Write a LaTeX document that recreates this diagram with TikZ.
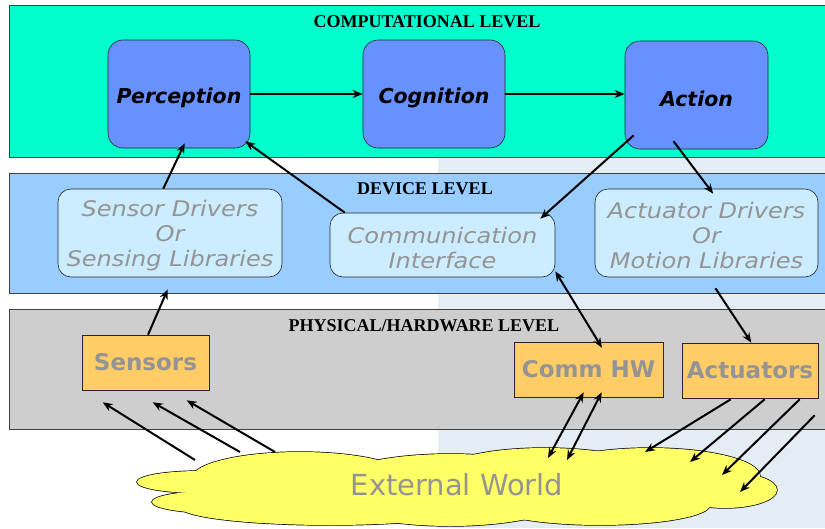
\documentclass[tikz,border=0pt]{standalone}
\usepackage{fontspec}
\setmainfont{Liberation Serif}
\newfontfamily\dv{DejaVu Sans}
\newfontfamily\dvw[FakeStretch=1.12]{DejaVu Sans}
\usetikzlibrary{arrows.meta,calc}
\definecolor{compc}{RGB}{0,255,204}
\definecolor{devc}{RGB}{153,204,255}
\definecolor{physc}{RGB}{206,206,206}
\definecolor{cblue}{RGB}{102,145,255}
\definecolor{dlight}{RGB}{204,236,255}
\definecolor{horange}{RGB}{255,204,102}
\definecolor{cloudy}{RGB}{255,255,102}
\definecolor{txtgray}{RGB}{148,148,148}
\definecolor{wmark}{RGB}{228,236,244}
\newcommand\dstrut{\rule{0pt}{22pt}}
\newcommand\lowered[2]{\raisebox{-#1}[\height][\depth]{#2}}
\begin{document}
\begin{tikzpicture}[x=1pt,y=-1pt,
  band/.style={draw=black!75, line width=0.8pt},
  bandtitle/.style={font=\bfseries\fontsize{18}{20}\selectfont, inner sep=0pt},
  cbox/.style={draw=black!85, line width=0.6pt, rounded corners=15pt, fill=cblue,
    minimum width=142pt, minimum height=108pt, inner sep=0pt,
    font=\dv\bfseries\itshape\fontsize{20.5}{24}\selectfont},
  dbox/.style={draw=black!85, line width=0.6pt, rounded corners=13pt, fill=dlight,
    align=center, inner sep=0pt, text=txtgray,
    font=\dvw\itshape\fontsize{21.5}{25}\selectfont},
  hbox/.style={draw=black!85, line width=0.6pt, fill=horange, inner sep=0pt,
    minimum height=55pt, text=txtgray,
    font=\dv\bfseries\fontsize{23}{27}\selectfont},
  arr/.style={-{Stealth[length=10pt,width=8pt]}, line width=2pt},
  darr/.style={{Stealth[length=10pt,width=8pt]}-{Stealth[length=10pt,width=8pt]}, line width=2pt}
]
\useasboundingbox (0,0) rectangle (825,528);
\fill[white] (0,0) rectangle (825,528);
% faint background watermark
\fill[wmark] (438,157) rectangle (825,528);

% bands
\draw[band, fill=compc] (9,5) rectangle (840,157);
\draw[band, fill=devc] (9,173) rectangle (840,293);
\draw[band, fill=physc] (9,309) rectangle (840,429);
\node[bandtitle] (tcomp) at (427,22) {COMPUTATIONAL LEVEL};
\node[bandtitle] (tdev) at (425,189) {DEVICE LEVEL};
\node[bandtitle] (tphys) at (424,326) {PHYSICAL/HARDWARE LEVEL};

% computational level
\node[cbox] (per) at (179,94) {\lowered{4pt}{Perception}};
\node[cbox] (cog) at (434,94) {\lowered{4pt}{Cognition}};
\node[cbox, minimum width=143pt] (act) at (696.5,95) {\lowered{4pt}{Action}};

% device level
\node[dbox, minimum width=224pt, minimum height=88pt] (sd) at (170,233) {\dstrut Sensor Drivers\\Or\\Sensing Libraries};
\node[dbox, minimum width=225pt, minimum height=64pt] (ci) at (442.5,245) {\dstrut Communication\\Interface};
\node[dbox, minimum width=223pt, minimum height=88pt] (ad) at (706.5,233) {\dstrut Actuator Drivers\\Or\\Motion Libraries};

% hardware level
\node[hbox, minimum width=127pt] (sens) at (145.5,362.5) {Sensors};
\node[hbox, minimum width=149pt] (hw) at (588.5,369.5) {Comm HW};
\node[hbox, minimum width=136pt] (actu) at (750,370.5) {Actuators};

% cloud
\foreach \cx/\cy/\rx/\ry in {200/482/63/11, 215/502/63/11, 300/478/108/26, 330/507/150/18,
  450/490/130/36, 545/468/95/20, 650/476/110/28, 600/505/110/20, 725/490/52/18}
  {\draw[line width=1.4pt] (\cx,\cy) ellipse [x radius=\rx pt, y radius=\ry pt];}
\foreach \cx/\cy/\rx/\ry in {200/482/63/11, 215/502/63/11, 300/478/108/26, 330/507/150/18,
  450/490/130/36, 545/468/95/20, 650/476/110/28, 600/505/110/20, 725/490/52/18}
  {\fill[cloudy] (\cx,\cy) ellipse [x radius=\rx pt, y radius=\ry pt];}
\node[text=txtgray, font=\dv\fontsize{29}{32}\selectfont, inner sep=0pt] (world) at (457,485) {External World};

% cloud anchor points
\coordinate (w1) at (195,460);
\coordinate (w2) at (240,452);
\coordinate (w3) at (275,452);
\coordinate (w4) at (548,458);
\coordinate (w5) at (567,460);
\coordinate (w6) at (645,452);
\coordinate (w7) at (690,462);
\coordinate (w8) at (722,475);
\coordinate (w9) at (740,492);

% computational arrows
\draw[arr] (per.east) -- (cog.west);
\draw[arr] (cog.east) -- ($(act.west)+(0,-1)$);

% device <-> computational
\draw[arr] ($(sd.north west)!0.47!(sd.north east)$) -- ($(per.south west)!0.54!(per.south east)+(0,-5)$);
\draw[arr] ($(ci.north west)!0.067!(ci.north east)$) -- ($(per.south east)+(-5,-7)$);
\draw[arr] ($(act.south west)+(9,-14)$) -- ($(ci.north east)+(-15,6)$);
\draw[arr] ($(act.south west)!0.34!(act.south east)+(0,-8)$) -- ($(ad.north west)!0.53!(ad.north east)+(0,5)$);

% hardware <-> device
\draw[arr] ($(sens.north west)!0.52!(sens.north east)$) -- ($(sd.south west)!0.49!(sd.south east)+(0,12)$);
\draw[darr] ($(ci.south east)+(0,-6)$) -- ($(hw.north west)!0.59!(hw.north east)+(0,6)$);
\draw[arr] ($(ad.south west)!0.54!(ad.south east)+(0,11)$) -- ($(actu.north west)!0.51!(actu.north east)$);

% world -> sensors
\draw[arr] (w1) -- ($(sens.south west)+(21,12)$);
\draw[arr] (w2) -- ($(sens.south west)+(71,12)$);
\draw[arr] (w3) -- ($(sens.south west)+(105,10)$);

% comm hw <-> world
\draw[darr] ($(hw.south west)+(70,-5)$) -- (w4);
\draw[darr] ($(hw.south west)+(88,-5)$) -- (w5);

% actuators -> world
\draw[arr] ($(actu.south west)+(49,1)$) -- (w6);
\draw[arr] ($(actu.south west)+(83,1)$) -- (w7);
\draw[arr] ($(actu.south west)+(118,1)$) -- (w8);
\draw[arr] ($(actu.south west)+(133,17)$) -- (w9);
\end{tikzpicture}
\end{document}
